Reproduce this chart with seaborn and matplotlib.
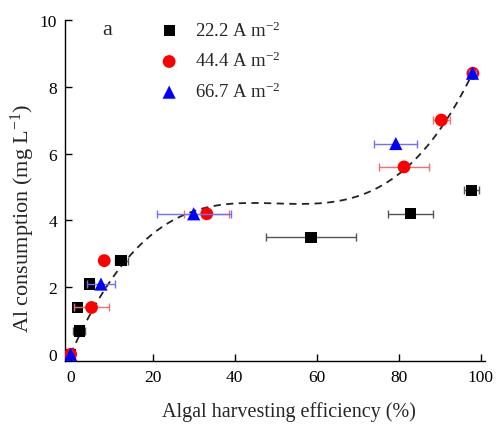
import numpy as np
import pandas as pd
import seaborn as sns
import matplotlib
matplotlib.use('Agg')
import matplotlib.pyplot as plt

# current densities
labels = ['22.2 A m$^{-2}$', '44.4 A m$^{-2}$', '66.7 A m$^{-2}$']

# 22.2 A m-2
eff_1 = [0, 2.1, 1.6, 4.6, 12.3, 58.6, 82.9, 97.8]
al_1 = [0, 0.7, 1.4, 2.1, 2.8, 3.5, 4.2, 4.9]
err_1 = [0, 1.5, 1.0, 1.0, 1.6, 11.0, 5.5, 1.8]

# 44.4 A m-2
eff_2 = [0, 5.1, 8.2, 33.2, 81.3, 90.4, 98.1]
al_2 = [0, 1.4, 2.8, 4.2, 5.6, 7.0, 8.4]
err_2 = [0, 4.3, 0.3, 5.5, 6.0, 2.0, 0.5]

# 66.7 A m-2
eff_3 = [0, 7.4, 30.0, 79.3, 98.0]
al_3 = [0, 2.1, 4.2, 6.3, 8.4]
err_3 = [0, 3.4, 9.0, 5.2, 0.8]

# cubic fit coefficients of the dashed trend line (highest power first)
fit_coef = [3.716e-5, -0.005594, 0.2770, 0.0]

sns.set_style('ticks')
plt.rcParams['font.family'] = ['Liberation Serif', 'DejaVu Serif']
plt.rcParams['mathtext.fontset'] = 'custom'
plt.rcParams['mathtext.rm'] = 'Liberation Serif'
plt.rcParams['mathtext.it'] = 'Liberation Serif:italic'

df = pd.concat([
    pd.DataFrame({'eff': eff_1, 'al': al_1, 'err': err_1, 'j': labels[0]}),
    pd.DataFrame({'eff': eff_2, 'al': al_2, 'err': err_2, 'j': labels[1]}),
    pd.DataFrame({'eff': eff_3, 'al': al_3, 'err': err_3, 'j': labels[2]}),
])

fig = plt.figure(figsize=(5, 4.31), dpi=100)
ax = fig.add_axes([0.1306, 0.160, 0.839, 0.792])

xs = np.linspace(0, 99, 200)
ax.plot(xs, np.polyval(fit_coef, xs), color='#222222', lw=1.3, dashes=(4, 3), zorder=1)

colors = {labels[0]: 'black', labels[1]: 'red', labels[2]: 'blue'}
errc = {labels[0]: '#555555', labels[1]: '#f07070', labels[2]: '#7070ff'}
marks = {labels[0]: 's', labels[1]: 'o', labels[2]: '^'}
sizes = {labels[0]: 65, labels[1]: 85, labels[2]: 90}

for i, lab in enumerate(labels):
    d = df[df['j'] == lab]
    ax.errorbar(d['eff'], d['al'], xerr=d['err'], fmt='none', ecolor=errc[lab],
                elinewidth=1, capsize=3, capthick=1, zorder=2 + i)
    sns.scatterplot(data=d, x='eff', y='al', marker=marks[lab], color=colors[lab],
                    s=sizes[lab], edgecolor='none', label=lab, ax=ax, zorder=3 + i)

ax.set_xlim(-1.3, 101)
ax.set_ylim(-0.2, 10)
ax.set_xticks([0, 20, 40, 60, 80, 100])
ax.set_yticks([0, 2, 4, 6, 8, 10])
ax.tick_params(direction='in', length=5, width=1, labelsize=12.5, pad=6, colors='black')
for s in ['top', 'right']:
    ax.spines[s].set_visible(False)
for s in ['left', 'bottom']:
    ax.spines[s].set_linewidth(1)
    ax.spines[s].set_color('black')

ax.set_xlabel('Algal harvesting efficiency (%)', fontsize=14.5)
ax.set_ylabel('Al consumption (mg L$^{-1}$)', fontsize=16)
ax.xaxis.set_label_coords(0.532, -0.118)
ax.yaxis.set_label_coords(-0.068, 0.42)

ax.text(0.1, 0.97, 'a', transform=ax.transAxes, fontsize=16, va='center', ha='center')
ax.legend(loc='upper left', bbox_to_anchor=(0.185, 1.02), frameon=False, fontsize=13.5,
          handletextpad=0.4, labelspacing=0.6, borderaxespad=0)

fig.savefig('out.png', dpi=100)
